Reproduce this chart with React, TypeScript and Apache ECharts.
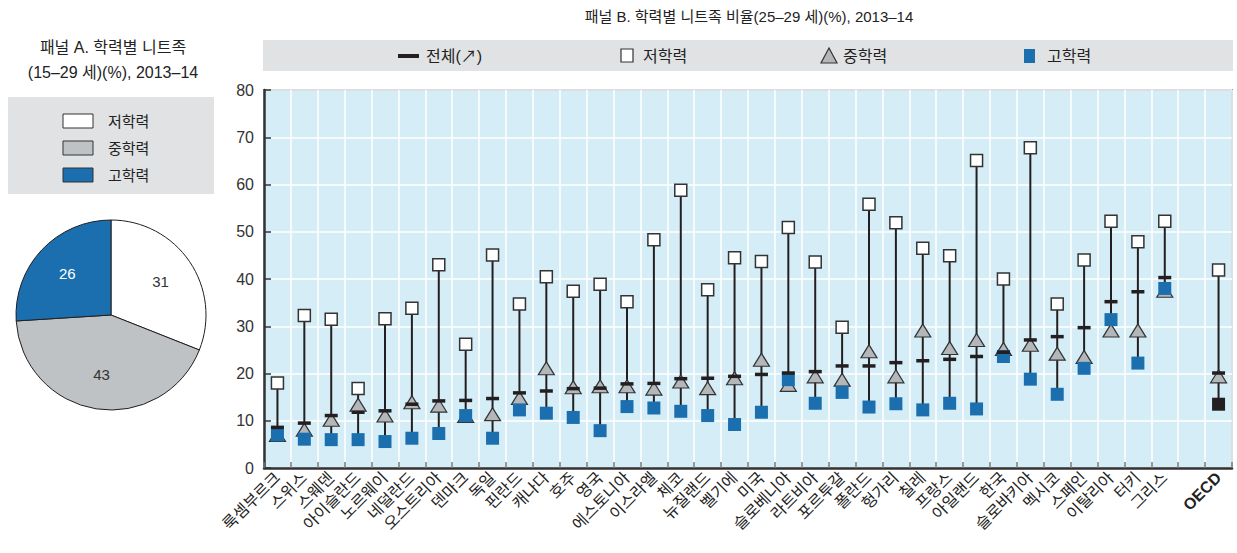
import React, { useEffect, useRef } from "react";
import * as echarts from "echarts";

const FONT = "'Liberation Sans', 'Noto Sans CJK KR', sans-serif";

// Panel A
const pieNames = ["저학력", "중학력", "고학력"];
const pieValues = [31, 43, 26];
const pieColors = ["#ffffff", "#bfc2c5", "#1b6fae"];

// Panel B
const countries = [
  "룩셈부르크", "스위스", "스웨덴", "아이슬란드", "노르웨이", "네덜란드", "오스트리아", "덴마크",
  "독일", "핀란드", "캐나다", "호주", "영국", "에스토니아", "이스라엘", "체코", "뉴질랜드",
  "벨기에", "미국", "슬로베니아", "라트비아", "포르투갈", "폴란드", "헝가리", "칠레", "프랑스",
  "아일랜드", "한국", "슬로바키아", "멕시코", "스페인", "이탈리아", "터키", "그리스", "", "OECD",
];
const lowEdu = [
  18.0, 32.3, 31.5, 16.8, 31.6, 33.8, 43.0, 26.2, 45.1, 34.7, 40.5, 37.4, 38.9, 35.2, 48.3, 58.8, 37.7,
  44.5, 43.7, 50.9, 43.6, 29.8, 55.8, 51.9, 46.5, 44.9, 65.1, 40.0, 67.8, 34.7, 44.0, 52.2, 47.9, 52.2, null, 41.9,
];
const midEdu = [
  7.0, 8.1, 10.2, 13.4, 11.1, 13.9, 13.2, 11.0, 11.4, 14.8, 21.1, 17.1, 17.3, 17.3, 16.8, 18.3, 16.9,
  19.0, 22.9, 17.6, 19.4, 18.7, 24.7, 19.4, 29.1, 25.4, 27.1, 25.2, 26.1, 24.2, 23.5, 29.1, 29.1, 37.5, null, 19.4,
];
const highEdu = [
  7.0, 6.1, 6.0, 6.0, 5.6, 6.3, 7.3, 11.1, 6.3, 12.3, 11.6, 10.7, 7.9, 13.0, 12.7, 12.0, 11.1,
  9.2, 11.8, 18.7, 13.7, 16.0, 12.9, 13.6, 12.3, 13.7, 12.5, 23.6, 18.8, 15.6, 21.1, 31.4, 22.2, 38.0, null, 13.5,
];
const totalRate = [
  8.6, 9.5, 11.1, 11.8, 12.1, 13.5, 14.2, 14.3, 14.7, 15.9, 16.3, 16.8, 16.9, 17.8, 17.9, 18.9, 19.0,
  19.4, 19.8, 20.1, 20.4, 21.6, 21.6, 22.3, 22.7, 23.0, 23.6, 24.5, 27.1, 27.8, 29.7, 35.2, 37.3, 40.3, null, 20.1,
];
const yTicks = [0, 10, 20, 30, 40, 50, 60, 70, 80];

const DARK = "#231f20";
const BLUE = "#1b6fae";
const GRAY = "#b4b7ba";

export default function App() {
  const ref = useRef<HTMLDivElement>(null);
  useEffect(() => {
    if (!ref.current) return;
    const chart = echarts.init(ref.current, null, { renderer: "svg" });

    const rangeData: number[][] = [];
    countries.forEach((_, i) => {
      if (lowEdu[i] == null) return;
      const vals = [lowEdu[i], midEdu[i], highEdu[i], totalRate[i]] as number[];
      rangeData.push([i, Math.max(...vals), Math.min(...vals)]);
    });
    const toData = (arr: (number | null)[]) => arr.map((v) => (v == null ? "-" : v));
    const highData = highEdu.map((v, i) =>
      v == null ? "-" : countries[i] === "OECD" ? { value: v, itemStyle: { color: DARK } } : v
    );

    const legendY = 56;
    const option: any = {
      animation: false,
      textStyle: { fontFamily: FONT },
      grid: {
        left: 264,
        top: 90,
        width: 968,
        height: 378,
        show: true,
        backgroundColor: "#d5edf7",
        borderColor: "#555",
        borderWidth: 1.5,
      },
      xAxis: {
        type: "category",
        data: countries,
        boundaryGap: true,
        axisLine: { show: true, lineStyle: { color: "#333", width: 2.5 } },
        axisTick: { show: true, inside: true, length: 6, interval: 0, lineStyle: { color: "#777", width: 1.5 } },
        splitLine: { show: true, interval: 0, lineStyle: { color: "#ffffff", width: 1.5 } },
        axisLabel: {
          interval: 0,
          rotate: 45,
          margin: 7,
          fontSize: 16,
          color: "#222",
          fontFamily: FONT,
          formatter: (v: string) => (v === "OECD" ? "{b|OECD}" : v),
          rich: { b: { fontWeight: "bold", fontSize: 16, color: "#222", fontFamily: FONT } },
        },
      },
      yAxis: {
        type: "value",
        min: 0,
        max: 80,
        interval: 10,
        axisLine: { show: true, lineStyle: { color: "#333", width: 2.5 } },
        axisTick: { show: true, inside: true, length: 7, lineStyle: { color: "#333", width: 1.5 } },
        splitLine: { show: true, lineStyle: { color: "#ffffff", width: 1.5 } },
        axisLabel: {
          fontSize: 16,
          color: "#333",
          margin: 10,
          fontFamily: FONT,
          customValues: yTicks,
        },
      },
      series: [
        {
          type: "pie",
          center: [111, 315],
          radius: [0, 95],
          startAngle: 90,
          clockwise: true,
          silent: true,
          data: pieNames.map((n, i) => ({
            name: n,
            value: pieValues[i],
            itemStyle: { color: pieColors[i] },
          })),
          itemStyle: { borderColor: DARK, borderWidth: 1 },
          label: { show: false },
          labelLine: { show: false },
        },
        {
          type: "pie",
          center: [111, 315],
          radius: [0, 114],
          startAngle: 90,
          clockwise: true,
          silent: true,
          z: 3,
          data: pieNames.map((n, i) => ({
            name: n,
            value: pieValues[i],
            itemStyle: { color: "rgba(0,0,0,0)" },
            label: { color: i === 2 ? "#ffffff" : "#333" },
          })),
          itemStyle: { borderWidth: 0 },
          label: {
            show: true,
            position: "inside",
            formatter: "{c}",
            fontSize: 15,
            fontFamily: FONT,
          },
          labelLine: { show: false },
        },
        {
          type: "custom",
          name: "range",
          z: 2,
          renderItem: (params: any, api: any) => {
            const x = api.value(0);
            const p1 = api.coord([x, api.value(1)]);
            const p2 = api.coord([x, api.value(2)]);
            return {
              type: "line",
              shape: { x1: p1[0], y1: p1[1], x2: p2[0], y2: p2[1] },
              style: { stroke: DARK, lineWidth: 2 },
            };
          },
          encode: { x: 0, y: [1, 2] },
          data: rangeData,
        },
        {
          type: "scatter",
          name: "저학력",
          z: 3,
          symbol: "rect",
          symbolSize: 12,
          itemStyle: { color: "#ffffff", borderColor: "#333", borderWidth: 1.5, opacity: 1 },
          data: toData(lowEdu),
        },
        {
          type: "scatter",
          name: "중학력",
          z: 4,
          symbol: "triangle",
          symbolSize: [16, 13],
          itemStyle: { color: GRAY, borderColor: "#333", borderWidth: 1.2, opacity: 1 },
          data: toData(midEdu),
        },
        {
          type: "scatter",
          name: "고학력",
          z: 5,
          symbol: "rect",
          symbolSize: 13,
          itemStyle: { color: BLUE, opacity: 1 },
          data: highData,
        },
        {
          type: "scatter",
          name: "전체",
          z: 6,
          symbol: "rect",
          symbolSize: [13, 3.5],
          itemStyle: { color: DARK, opacity: 1 },
          data: toData(totalRate),
        },
      ],
      graphic: [
        // Panel A title & legend
        {
          type: "text",
          style: {
            x: 113, y: 47, text: "패널 A. 학력별 니트족", textAlign: "center", textVerticalAlign: "middle",
            fontSize: 16, fill: "#222", fontFamily: FONT,
          },
        },
        {
          type: "text",
          style: {
            x: 113, y: 72, text: "(15–29 세)(%), 2013–14", textAlign: "center", textVerticalAlign: "middle",
            fontSize: 16, fill: "#222", fontFamily: FONT,
          },
        },
        { type: "rect", shape: { x: 8, y: 97, width: 206, height: 97 }, style: { fill: "#e1e2e4" } },
        ...pieNames.flatMap((n, i) => [
          {
            type: "rect",
            shape: { x: 63, y: 114 + i * 27, width: 30, height: 14 },
            style: { fill: pieColors[i], stroke: "#333", lineWidth: 1 },
          },
          {
            type: "text",
            style: {
              x: 108, y: 121 + i * 27, text: n, textVerticalAlign: "middle",
              fontSize: 15, fill: "#222", fontFamily: FONT,
            },
          },
        ]),
        // Panel B title & legend
        {
          type: "text",
          style: {
            x: 749, y: 16, text: "패널 B. 학력별 니트족 비율(25–29 세)(%), 2013–14", textAlign: "center",
            textVerticalAlign: "middle", fontSize: 15, fill: "#222", fontFamily: FONT,
          },
        },
        { type: "rect", shape: { x: 263, y: 40, width: 970, height: 31 }, style: { fill: "#e1e2e4" } },
        { type: "rect", shape: { x: 398, y: legendY - 2, width: 21, height: 4 }, style: { fill: DARK } },
        {
          type: "text",
          style: { x: 426, y: legendY, text: "전체(↗)", textVerticalAlign: "middle", fontSize: 16, fill: "#222", fontFamily: FONT },
        },
        {
          type: "rect",
          shape: { x: 621, y: legendY - 7, width: 12, height: 13 },
          style: { fill: "#fff", stroke: "#333", lineWidth: 1.2 },
        },
        {
          type: "text",
          style: { x: 643, y: legendY, text: "저학력", textVerticalAlign: "middle", fontSize: 16, fill: "#222", fontFamily: FONT },
        },
        {
          type: "polygon",
          shape: { points: [[829, legendY - 8], [837, legendY + 7], [821, legendY + 7]] },
          style: { fill: GRAY, stroke: "#333", lineWidth: 1.2 },
        },
        {
          type: "text",
          style: { x: 843, y: legendY, text: "중학력", textVerticalAlign: "middle", fontSize: 16, fill: "#222", fontFamily: FONT },
        },
        { type: "rect", shape: { x: 1024, y: legendY - 7, width: 11, height: 14 }, style: { fill: BLUE } },
        {
          type: "text",
          style: { x: 1047, y: legendY, text: "고학력", textVerticalAlign: "middle", fontSize: 16, fill: "#222", fontFamily: FONT },
        },
      ],
    };
    chart.setOption(option);
    return () => chart.dispose();
  }, []);

  return (
    <div
      ref={ref}
      style={{ position: "fixed", left: 0, top: 0, width: 1237, height: 553, background: "#ffffff" }}
    />
  );
}
